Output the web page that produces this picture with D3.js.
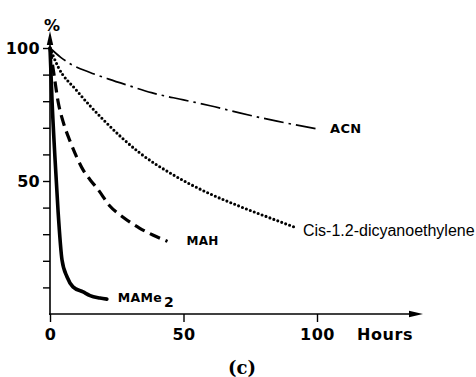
<!DOCTYPE html>
<html>
<head>
<meta charset="utf-8">
<script src="https://cdn.jsdelivr.net/npm/d3@7"></script>
<style>
  html, body { margin: 0; padding: 0; background: #fff; }
  svg { display: block; }
</style>
</head>
<body>
<svg id="chart" width="476" height="377"></svg>
<script>
// ---------- DATA ----------
const seriesNames = ["ACN", "Cis-1.2-dicyanoethylene", "MAH", "MAMe2"];

const acnHours  = [0, 4, 8, 15, 22, 30, 38, 50, 60, 71, 85, 100.4];
const acnValues = [100, 96.5, 93.8, 90.8, 88.3, 85.7, 83.2, 80.5, 78.3, 75.6, 72.5, 69.5];

const cisHours  = [0, 3, 10, 20, 33.7, 46, 58.8, 71, 83.5, 92.5];
const cisValues = [100, 93, 84, 73, 60.5, 52.4, 45.7, 40.5, 35.7, 32.3];

const mahHours  = [0, 1.5, 3, 5, 7.5, 10, 12.5, 15, 18, 22.5, 27.5, 33.5, 38.5, 44];
const mahValues = [100, 90, 80, 72, 65, 59, 54, 50.5, 46.8, 40.5, 36.3, 32.3, 29.7, 27.3];

const mameHours  = [0, 0.75, 1.9, 3, 4.5, 6.4, 8.6, 12.4, 15, 18.7, 21.3];
const mameValues = [100, 80.5, 58, 39, 20.3, 13.9, 10.2, 8.3, 6.9, 6.0, 5.6];

const xTickValues = [0, 50, 100];
const yTickValues = [10, 20, 30, 40, 50, 60, 70, 80, 90, 100];
const yTickLabels = [50, 100];
const xAxisTitle = "Hours";
const yAxisTitle = "%";
const panelLabel = "(c)";

// ---------- LAYOUT ----------
const svg = d3.select("#chart");
const x = d3.scaleLinear().domain([0, 100]).range([50, 317]);
const y = d3.scaleLinear().domain([0, 100]).range([314, 48]);
const boldFont = "'DejaVu Sans', sans-serif";

// axes
const gy = svg.append("g").attr("transform", `translate(${x(0)},0)`)
  .call(d3.axisLeft(y).tickValues(yTickValues).tickSize(7).tickPadding(3)
    .tickFormat(d => yTickLabels.includes(d) ? d : ""));
gy.select(".domain").remove();
gy.selectAll(".tick line").attr("stroke", "#000").attr("stroke-width", 1.4);
gy.selectAll(".tick text").attr("font-family", boldFont).attr("font-weight", "bold")
  .attr("font-size", 16).attr("fill", "#000").attr("letter-spacing", 0.3);

const gx = svg.append("g").attr("transform", `translate(0,${y(0)})`)
  .call(d3.axisBottom(x).tickValues(xTickValues).tickSize(8).tickPadding(7)
    .tickFormat(d3.format("d")));
gx.select(".domain").remove();
gx.selectAll(".tick line").attr("stroke", "#000").attr("stroke-width", 1.4);
gx.selectAll(".tick text").attr("font-family", boldFont).attr("font-weight", "bold")
  .attr("font-size", 16).attr("fill", "#000").attr("letter-spacing", 0.5);

// axis lines with arrows
const x0 = x(0), y0 = y(0);
svg.append("line").attr("x1", x0).attr("y1", y0 + 1).attr("x2", x0).attr("y2", 40)
  .attr("stroke", "#000").attr("stroke-width", 1.6);
svg.append("path").attr("d", `M${x0},31 L${x0 - 3.2},45 L${x0 + 3.2},45 Z`).attr("fill", "#000");
svg.append("line").attr("x1", x0 - 1).attr("y1", y0).attr("x2", 414).attr("y2", y0)
  .attr("stroke", "#000").attr("stroke-width", 1.6);
svg.append("path").attr("d", `M423,${y0} L409,${y0 - 3.2} L409,${y0 + 3.2} Z`).attr("fill", "#000");

// titles
svg.append("text").attr("x", x0 + 2).attr("y", 31).attr("text-anchor", "middle")
  .attr("font-family", boldFont).attr("font-weight", "bold").attr("font-size", 16)
  .text(yAxisTitle);
svg.append("text").attr("x", 357).attr("y", 340)
  .attr("font-family", boldFont).attr("font-weight", "bold").attr("font-size", 16)
  .attr("letter-spacing", 0.6).text(xAxisTitle);
svg.append("text").attr("x", 242).attr("y", 374).attr("text-anchor", "middle")
  .attr("font-family", "'DejaVu Serif', serif").attr("font-weight", "bold").attr("font-size", 18)
  .text(panelLabel);

// ---------- SERIES ----------
const line = d3.line().x(d => x(d[0])).y(d => y(d[1])).curve(d3.curveMonotoneX);
const zip = (a, b) => a.map((v, i) => [v, b[i]]);

const series = [
  { name: seriesNames[0], pts: zip(acnHours, acnValues), width: 1.7, dash: "20,5,2.5,5", cap: "butt" },
  { name: seriesNames[1], pts: zip(cisHours, cisValues), width: 3.1, dash: "0,4.2", cap: "round" },
  { name: seriesNames[2], pts: zip(mahHours, mahValues), width: 3.2, dash: "11,6", cap: "butt" },
  { name: seriesNames[3], pts: zip(mameHours, mameValues), width: 3.6, dash: null, cap: "round" }
];

svg.append("g").selectAll("path").data(series).join("path")
  .attr("d", d => line(d.pts))
  .attr("fill", "none")
  .attr("stroke", "#000")
  .attr("stroke-width", d => d.width)
  .attr("stroke-dasharray", d => d.dash)
  .attr("stroke-linecap", d => d.cap);

// ---------- LABELS ----------
const last = s => s.pts[s.pts.length - 1];
const lbl = svg.append("g").attr("font-family", boldFont).attr("font-weight", "bold").attr("fill", "#000");

lbl.append("text").attr("x", x(last(series[0])[0]) + 12).attr("y", y(last(series[0])[1]) + 4)
  .attr("font-size", 13).attr("letter-spacing", 0.3).text(seriesNames[0]);

svg.append("text").attr("x", x(last(series[1])[0]) + 6).attr("y", y(last(series[1])[1]) + 8)
  .attr("font-family", "'Liberation Sans', Arial, sans-serif").attr("font-size", 16)
  .attr("fill", "#000").text(seriesNames[1]);

lbl.append("text").attr("x", x(last(series[2])[0]) + 19).attr("y", y(last(series[2])[1]) + 4)
  .attr("font-size", 12).attr("letter-spacing", 0.3).text(seriesNames[2]);

const mt = lbl.append("text").attr("x", x(last(series[3])[0]) + 11).attr("y", y(last(series[3])[1]) + 3)
  .attr("font-size", 12.5).attr("letter-spacing", 0.3);
mt.append("tspan").text("MAMe");
mt.append("tspan").attr("dx", 2).attr("dy", 5).attr("font-size", 14).text("2");
</script>
</body>
</html>
